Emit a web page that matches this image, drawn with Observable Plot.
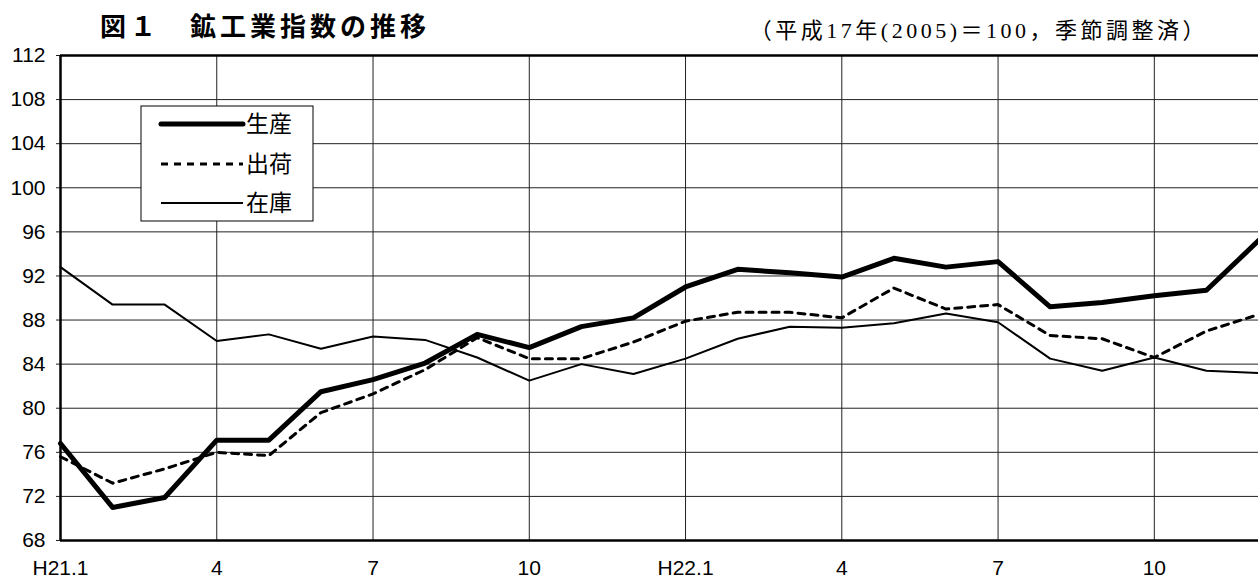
<!DOCTYPE html>
<html>
<head>
<meta charset="utf-8">
<script src="https://cdn.jsdelivr.net/npm/d3@7"></script>
<script src="https://cdn.jsdelivr.net/npm/@observablehq/plot@0.6"></script>
<style>
  html, body { margin: 0; padding: 0; background: #fff; }
  #chart { position: relative; width: 1258px; height: 581px; }
</style>
</head>
<body>
<div id="chart"></div>
<script>
// Months H21.1 .. H22.12 (index 0..23)
const monthIndex = d3.range(24);
const production = [76.8, 71.0, 71.9, 77.1, 77.1, 81.5, 82.6, 84.1, 86.7, 85.5, 87.4, 88.2,
                    91.0, 92.6, 92.3, 91.9, 93.6, 92.8, 93.3, 89.2, 89.6, 90.2, 90.7, 95.2];
const shipments  = [75.6, 73.2, 74.5, 76.0, 75.7, 79.6, 81.3, 83.5, 86.4, 84.5, 84.5, 86.0,
                    87.9, 88.7, 88.7, 88.2, 90.9, 89.0, 89.4, 86.6, 86.3, 84.6, 87.0, 88.5];
const inventory  = [92.8, 89.4, 89.4, 86.1, 86.7, 85.4, 86.5, 86.2, 84.6, 82.5, 84.0, 83.1,
                    84.5, 86.3, 87.4, 87.3, 87.7, 88.6, 87.8, 84.5, 83.4, 84.6, 83.4, 83.2];
const xTicks = [0, 3, 6, 9, 12, 15, 18, 21];
const xTickLabels = ["H21.1", "4", "7", "10", "H22.1", "4", "7", "10"];
const yTicks = [68, 72, 76, 80, 84, 88, 92, 96, 100, 104, 108, 112];
const seriesNames = ["生産", "出荷", "在庫"];
const titleText = "図１　鉱工業指数の推移";
const subtitleText = "（平成17年(2005)＝100，季節調整済）";

const sansFont = "'Liberation Sans', Arial, 'Noto Sans CJK JP', sans-serif";
const serifFont = "'Liberation Serif', 'DejaVu Serif', 'Noto Sans CJK JP', serif";

const chart = Plot.plot({
  width: 1258,
  height: 581,
  marginLeft: 60,
  marginRight: 0,
  marginTop: 55,
  marginBottom: 41,
  style: { fontFamily: sansFont, background: "#fff", color: "#000" },
  x: { domain: [0, 23] },
  y: { domain: [68, 112] },
  marks: [
    Plot.gridX(xTicks, { stroke: "#222", strokeOpacity: 1, strokeWidth: 1 }),
    Plot.gridY(yTicks, { stroke: "#222", strokeOpacity: 1, strokeWidth: 1 }),
    Plot.axisY(yTicks, { tickSize: 4, tickPadding: 11, fontSize: 21, label: null, stroke: "#222" }),
    Plot.axisX(xTicks, {
      tickSize: 0, tickPadding: 20, fontSize: 21, label: null,
      tickFormat: d => xTickLabels[xTicks.indexOf(d)]
    }),
    Plot.ruleX([0], { stroke: "#000", strokeWidth: 2.5 }),
    Plot.ruleY([68], { stroke: "#000", strokeWidth: 2.5 }),
    Plot.ruleY([112], { stroke: "#000", strokeWidth: 2.5 }),
    Plot.lineY(inventory, { x: (d, i) => monthIndex[i], y: d => d, stroke: "#000", strokeWidth: 2 }),
    Plot.lineY(shipments, { x: (d, i) => monthIndex[i], y: d => d, stroke: "#000", strokeWidth: 3, strokeDasharray: "7,6" }),
    Plot.lineY(production, { x: (d, i) => monthIndex[i], y: d => d, stroke: "#000", strokeWidth: 5, strokeLinejoin: "round" })
  ]
});

document.getElementById("chart").appendChild(chart);

const svg = d3.select(chart);

// Title
svg.append("text")
  .attr("x", 100).attr("y", 36)
  .attr("text-anchor", "start")
  .attr("font-family", "'Noto Sans CJK JP', sans-serif")
  .attr("font-weight", "bold")
  .attr("font-size", 26)
  .attr("letter-spacing", 4)
  .attr("fill", "#000")
  .text(titleText);

// Subtitle
svg.append("text")
  .attr("x", 1208).attr("y", 38)
  .attr("text-anchor", "end")
  .attr("font-family", serifFont)
  .attr("font-size", 22)
  .attr("letter-spacing", 3.5)
  .attr("fill", "#000")
  .text(subtitleText);

// Legend
const lg = svg.append("g").attr("text-anchor", "start");
lg.append("rect")
  .attr("x", 141).attr("y", 106).attr("width", 172).attr("height", 115)
  .attr("fill", "#fff").attr("stroke", "#000").attr("stroke-width", 1);
const legendStyles = [
  { w: 5, dash: null, cap: "round" },
  { w: 3, dash: "7,6", cap: "butt" },
  { w: 2, dash: null, cap: "butt" }
];
const rowsY = [124, 164, 203];
seriesNames.forEach((name, k) => {
  const ln = lg.append("line")
    .attr("x1", 161).attr("x2", 243)
    .attr("y1", rowsY[k]).attr("y2", rowsY[k])
    .attr("stroke", "#000")
    .attr("stroke-width", legendStyles[k].w)
    .attr("stroke-linecap", legendStyles[k].cap);
  if (legendStyles[k].dash) ln.attr("stroke-dasharray", legendStyles[k].dash);
  lg.append("text")
    .attr("x", 246).attr("y", rowsY[k])
    .attr("dy", "0.36em")
    .attr("text-anchor", "start")
    .attr("font-family", serifFont)
    .attr("font-size", 23)
    .attr("fill", "#000")
    .text(name);
});
</script>
</body>
</html>
